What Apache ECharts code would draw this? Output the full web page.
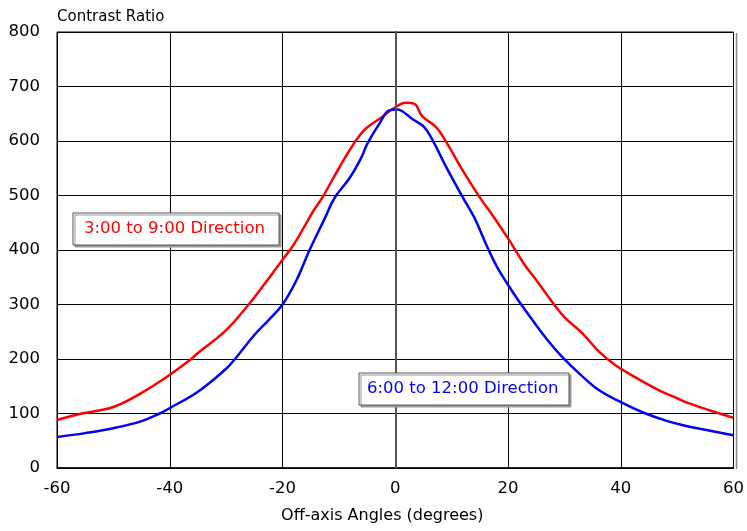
<!DOCTYPE html>
<html>
<head>
<meta charset="utf-8">
<script src="https://cdn.jsdelivr.net/npm/echarts@6/dist/echarts.min.js"></script>
<style>html,body{margin:0;padding:0;background:#fff}#c{width:747px;height:531px}</style>
</head>
<body>
<div id="c"></div>
<script>
var xTicks = [-60, -40, -20, 0, 20, 40, 60];
var redName = '3:00 to 9:00 Direction';
var blueName = '6:00 to 12:00 Direction';
var redAngles = [-60, -55.6, -50, -45, -40, -36.2, -35, -30, -26, -25, -20, -18, -16, -14.5, -13, -10, -7.3, -5.2, -2.2, 0, 1.9, 3.4, 4.8, 7.2, 9, 11.9, 14.9, 17.5, 20.2, 23, 25, 28.1, 30, 33.2, 36, 39, 42, 46.7, 50, 52, 56, 60];
var redValues = [88, 100, 112, 138, 171, 200, 211, 253, 300, 313, 382, 410, 445, 472, 495, 550, 596, 623, 645, 662, 670, 668, 645, 626, 599, 547, 498, 460, 418, 372, 345, 301, 277, 247, 215, 189, 170, 143, 128, 119, 105, 92];
var blueAngles = [-60, -55, -50, -45, -41.8, -40, -35, -30, -28.5, -25, -22.5, -20, -17.5, -15.2, -12.5, -10.8, -8.1, -6, -4.9, -2.8, -1.1, 0.4, 1.3, 3.1, 5.1, 6.6, 9, 11.9, 14, 16.3, 18, 20.2, 22, 24.3, 27, 29.6, 33, 36.1, 40.2, 44.4, 48, 50.9, 55, 60];
var blueValues = [57, 64, 73, 86, 100, 110, 140, 182, 199, 244, 271, 300, 345, 400, 458, 495, 532, 570, 596, 632, 656, 658, 654, 640, 626, 602, 553, 498, 460, 406, 370, 333, 305, 272, 235, 204, 170, 143, 120, 100, 87, 79, 70, 60];

function pairs(a, v) { return a.map(function (x, i) { return [x, v[i]]; }); }

var FONT = 'DejaVu Sans';
var chart = echarts.init(document.getElementById('c'));
chart.setOption({
  backgroundColor: '#fff',
  animation: false,
  grid: { left: 57, right: 12, top: 32, bottom: 63, show: true, borderColor: '#000', borderWidth: 1 },
  xAxis: {
    type: 'value', min: -60, max: 60, interval: 20,
    name: 'Off-axis Angles (degrees)', nameLocation: 'middle', nameGap: 40,
    nameTextStyle: { fontFamily: FONT, fontSize: 16, color: '#000', padding: [0, 26, 0, 0] },
    axisLine: { show: true, lineStyle: { color: '#000', width: 1.5 } },
    axisTick: { show: false },
    axisLabel: { fontFamily: FONT, fontSize: 16.5, color: '#000', margin: 12,
      formatter: function (v) { return xTicks.indexOf(v) >= 0 ? String(v) : ''; } },
    splitLine: { show: true, lineStyle: { color: '#000', width: 1 } }
  },
  yAxis: {
    type: 'value', min: 0, max: 800, interval: 100,
    axisLine: { show: true, lineStyle: { color: '#000', width: 1.5 } },
    axisTick: { show: false },
    axisLabel: { fontFamily: FONT, fontSize: 16.5, color: '#000', margin: 17 },
    splitLine: { show: true, lineStyle: { color: '#000', width: 1 } }
  },
  series: [
    { name: redName, type: 'line', data: pairs(redAngles, redValues), showSymbol: false, smooth: 0.4,
      lineStyle: { color: '#ff0000', width: 2.5 }, z: 3,
      markLine: { silent: true, symbol: 'none', label: { show: false },
        lineStyle: { color: '#555', width: 2, type: 'solid' }, data: [{ xAxis: 0 }] } },
    { name: blueName, type: 'line', data: pairs(blueAngles, blueValues), showSymbol: false, smooth: 0.4,
      lineStyle: { color: '#0000ff', width: 2.5 }, z: 4 }
  ],
  graphic: [
    { type: 'text', left: 57, top: 10, style: { text: 'Contrast Ratio', font: '15px "DejaVu Sans"', fill: '#000' } },
    { type: 'line', shape: { x1: 736.5, y1: 33, x2: 736.5, y2: 469 }, style: { stroke: '#888', lineWidth: 1.5 }, z: 10 },
    { type: 'rect', shape: { x: 73, y: 213, width: 206, height: 32 },
      style: { fill: '#fff', stroke: '#555', lineWidth: 1, shadowColor: '#999', shadowOffsetX: 2, shadowOffsetY: 2, shadowBlur: 0 }, z: 20 },
    { type: 'text', x: 84, y: 229, style: { text: redName, font: '16.5px "DejaVu Sans"', fill: '#ff0000', textVerticalAlign: 'middle' }, z: 21 },
    { type: 'rect', shape: { x: 359, y: 373, width: 210, height: 32 },
      style: { fill: '#fff', stroke: '#555', lineWidth: 1, shadowColor: '#999', shadowOffsetX: 2, shadowOffsetY: 2, shadowBlur: 0 }, z: 20 },
    { type: 'text', x: 367, y: 389, style: { text: blueName, font: '16.5px "DejaVu Sans"', fill: '#0000ff', textVerticalAlign: 'middle' }, z: 21 }
  ]
});
</script>
</body>
</html>
